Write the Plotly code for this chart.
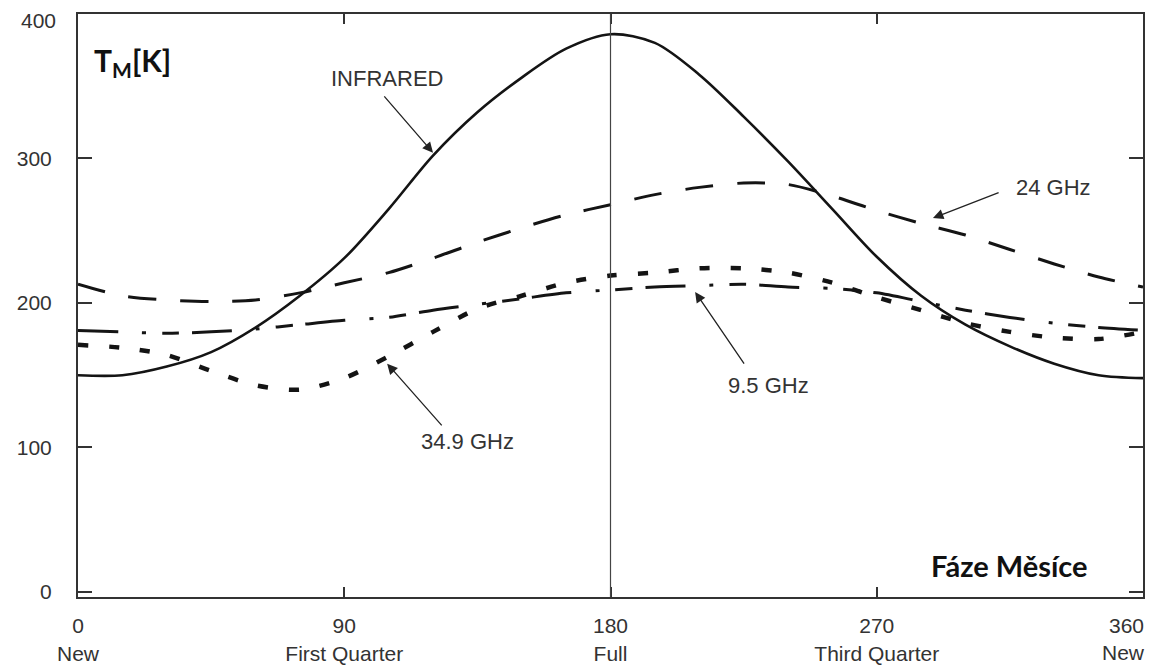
import plotly.graph_objects as go

# Moon phase angle (degrees)
phase = [0, 15, 30, 45, 60, 75, 90, 105, 120, 135, 150, 165, 180,
         195, 210, 225, 240, 255, 270, 285, 300, 315, 330, 345, 360]

# Brightness temperature T_M [K]
infrared = [150, 150, 156, 166, 183, 205, 231, 265, 302, 332, 356, 376, 386,
            380, 358, 329, 298, 265, 232, 205, 185, 170, 158, 150, 148]
ghz_24 = [213, 205, 202, 201, 202, 207, 214, 221, 231, 242, 252, 261, 268,
          275, 280, 283, 282, 274, 264, 255, 247, 237, 227, 218, 211]
ghz_9_5 = [181, 180, 179, 180, 182, 185, 188, 190, 195, 199, 203, 207, 209,
           211, 212, 213, 211, 210, 207, 201, 195, 190, 186, 183, 181]
ghz_34_9 = [171, 169, 164, 153, 143, 140, 148, 163, 180, 196, 205, 214, 219,
            221, 224, 224, 221, 214, 204, 195, 186, 180, 176, 175, 180]

x_tickvals = [0, 90, 180, 270, 360]
x_ticktext = ["0<br>New", "90<br>First Quarter", "180<br>Full",
              "270<br>Third Quarter", "360<br>New"]
y_tickvals = [0, 100, 200, 300, 400]
y_ticktext = ["0", "100", "200", "300", "400"]

LINE = "#141414"
TXT = "#333333"
TICKFONT = dict(family="Liberation Sans, Arial, sans-serif", size=21, color=TXT)

fig = go.Figure()
fig.add_trace(go.Scatter(x=phase, y=infrared, mode="lines", name="INFRARED",
                         line=dict(color=LINE, width=2.6, shape="spline", smoothing=0.9)))
fig.add_trace(go.Scatter(x=phase, y=ghz_24, mode="lines", name="24 GHz",
                         line=dict(color=LINE, width=3, dash="28px,24px",
                                   shape="spline", smoothing=0.8)))
fig.add_trace(go.Scatter(x=phase, y=ghz_9_5, mode="lines", name="9.5 GHz",
                         line=dict(color=LINE, width=3,
                                   dash="40px,24px,4px,16px,17px,13px",
                                   shape="spline", smoothing=0.8)))
fig.add_trace(go.Scatter(x=phase, y=ghz_34_9, mode="lines", name="34.9 GHz",
                         line=dict(color=LINE, width=4.5, dash="10px,21px",
                                   shape="spline", smoothing=0.8)))

# vertical line at Full Moon
fig.add_shape(type="line", xref="x", yref="paper", x0=180, x1=180, y0=0, y1=1,
              line=dict(color="#444444", width=1.2))

font_txt = dict(family="Liberation Sans, Arial, sans-serif", size=22, color=TXT)

labels = [
    ("INFRARED", 104.5, 355.7),
    ("24 GHz", 329.6, 279.6),
    ("9.5 GHz", 233.3, 142.6),
    ("34.9 GHz", 131.5, 103.8),
]
for t, xx, yy in labels:
    fig.add_annotation(x=xx, y=yy, text=t, showarrow=False, font=font_txt)

arrows = [
    (120.0, 304.0, 103.1, 344.0),
    (289.0, 258.8, 311.7, 276.8),
    (208.6, 207.6, 225.5, 157.0),
    (104.5, 158.0, 123.4, 114.2),
]
for xt, yt, xa, ya in arrows:
    fig.add_annotation(x=xt, y=yt, ax=xa, ay=ya, axref="x", ayref="y", text="",
                       showarrow=True, arrowhead=2, arrowsize=1.6, arrowwidth=1.3,
                       arrowcolor="#222222")

fig.add_annotation(x=18.3, y=366.8, text="<b>T<sub>M</sub>[K]</b>", showarrow=False,
                   font=dict(family="Lato, Open Sans, sans-serif", size=30, color="#111111"))
fig.add_annotation(x=315, y=18, text="<b>Fáze Měsíce</b>", showarrow=False,
                   font=dict(family="Lato, Open Sans, sans-serif", size=29, color="#111111"))

# last x tick label drawn right-aligned so it stays inside the page
fig.add_annotation(x=x_tickvals[-1], xref="x", y=0, yref="paper",
                   text=x_ticktext[-1], showarrow=False, xanchor="right",
                   yanchor="top", align="right", xshift=4, yshift=-15,
                   font=TICKFONT)
x_text_shown = x_ticktext[:-1] + [""]

# top y tick label nudged down slightly so it is not clipped
fig.add_annotation(x=0, xref="paper", y=y_tickvals[-1], yref="y",
                   text=y_ticktext[-1], showarrow=False, xanchor="right",
                   yanchor="middle", xshift=-20, yshift=-6, font=TICKFONT)
y_text_shown = y_ticktext[:-1] + [""]

fig.update_layout(
    width=1149, height=658,
    margin=dict(l=70, r=14, t=6, b=69),
    paper_bgcolor="white", plot_bgcolor="white",
    showlegend=False,
    font=TICKFONT,
)
fig.update_xaxes(range=[0, 360], tickvals=x_tickvals, ticktext=x_text_shown,
                 automargin=False, ticklabeloverflow="allow",
                 showgrid=False, zeroline=False, showline=True, linecolor="#333333",
                 linewidth=2, mirror="ticks", ticks="inside", ticklen=10,
                 tickwidth=1.5, tickcolor="#333333", ticklabelstandoff=9)
fig.update_yaxes(range=[-3.5, 400], tickvals=y_tickvals, ticktext=y_text_shown,
                 automargin=False, ticklabeloverflow="allow",
                 showgrid=False, zeroline=False, showline=True, linecolor="#333333",
                 linewidth=2, mirror="ticks", ticks="inside", ticklen=14,
                 tickwidth=1.5, tickcolor="#333333", ticklabelstandoff=20)

fig.write_html("out.html")
